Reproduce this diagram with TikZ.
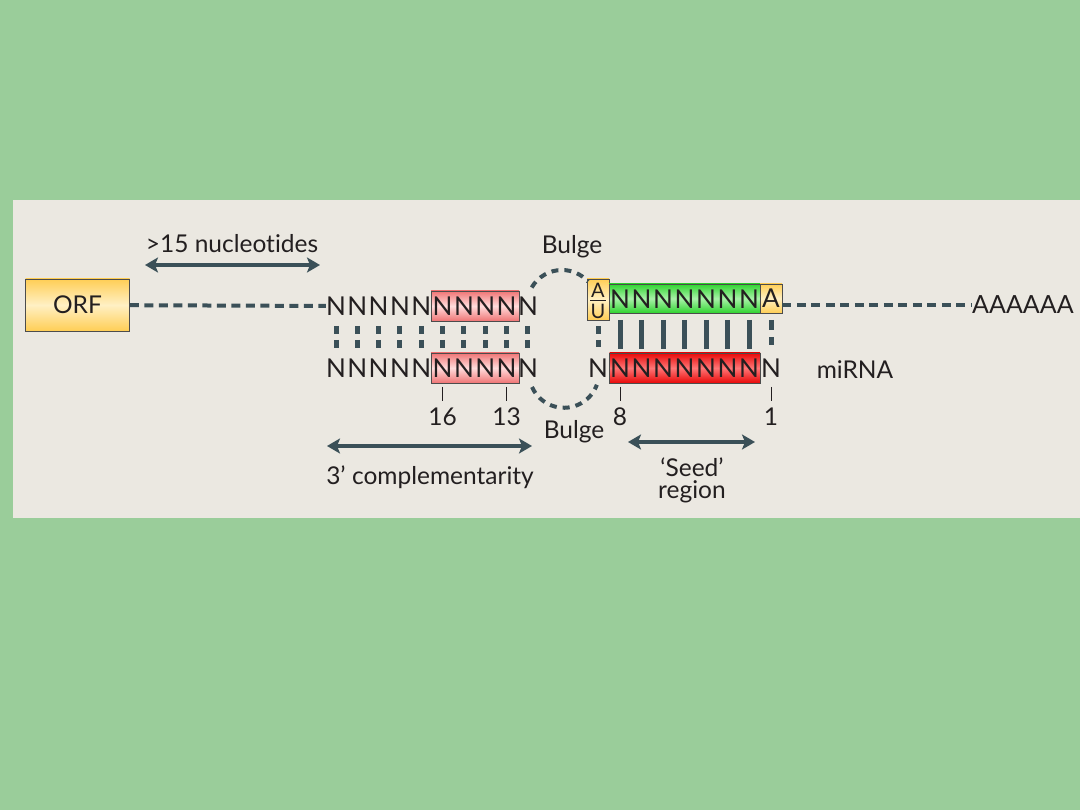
\documentclass[tikz,border=0pt]{standalone}
\usepackage{fontspec}
\setmainfont{Lato}[Ligatures=NoCommon]
\usetikzlibrary{arrows.meta}
\definecolor{bggreen}{HTML}{9ACD9A}
\definecolor{panel}{HTML}{EBE8E1}
\definecolor{slate}{HTML}{3B5058}
\definecolor{ink}{HTML}{231F20}
\definecolor{orfdark}{HTML}{FFCE55}
\definecolor{orflight}{HTML}{FFF0C4}
\definecolor{pinkdark}{HTML}{EF7474}
\definecolor{pinklight}{HTML}{FFDCDC}
\definecolor{reddark}{HTML}{E80808}
\definecolor{redlight}{HTML}{FF7676}
\definecolor{grndark}{HTML}{30D430}
\definecolor{grnlight}{HTML}{A8F2A8}
\begin{document}
\begin{tikzpicture}[x=1pt,y=-1pt,
  every node/.style={inner sep=0pt,text=ink,font=\fontsize{24.5}{28}\selectfont},
  nuc/.style={font=\fontsize{26}{30}\selectfont},
  box/.style={draw=black!70,line width=0.8pt,minimum height=30pt},
  orfbox/.style={box,top color=orfdark,bottom color=orfdark,middle color=orflight},
  pinkbox/.style={box,top color=pinkdark,bottom color=pinkdark,middle color=pinklight},
  redbox/.style={box,top color=reddark,bottom color=reddark,middle color=redlight},
  greenbox/.style={box,top color=grndark,bottom color=grndark,middle color=grnlight},
  strand/.style={slate,line width=4pt,dash pattern=on 9pt off 5.5pt},
  bulge/.style={slate,line width=4pt,dash pattern=on 7pt off 6pt},
  pairdash/.style={slate,line width=5pt,dash pattern=on 8pt off 6pt},
  pairbar/.style={slate,line width=5pt},
  tick/.style={ink,line width=0.9pt},
  span/.style={slate,line width=4pt,{Stealth[length=13pt,width=15pt,inset=3pt]}-{Stealth[length=13pt,width=15pt,inset=3pt]}}]
\fill[bggreen] (0,0) rectangle (1080,810);
\fill[panel] (13,200) rectangle (1080,518);

\node[orfbox,minimum width=104pt,minimum height=52pt] (orf) at (77.5,305) {ORF};

\node[pinkbox,minimum width=88pt] (pinktop) at (475,306) {};
\node[pinkbox,minimum width=88pt] (pinkbot) at (475,368) {};
\foreach \i in {0,...,9} {
    \node[nuc] (t\i) at ({336+21.33*\i},306) {N};
    \node[nuc] (b\i) at ({336+21.33*\i},368) {N};
    \draw[pairdash] (t\i) ++(0,20) -- ++(0,22);
}
\draw[strand] (orf) -- (t0);

\node[orfbox,minimum width=22pt,minimum height=41pt] (au) at (598,299.5) {};
\node[font=\fontsize{20}{23}\selectfont] (aa) at (598,290) {A};
\node[font=\fontsize{20}{23}\selectfont] (uu) at (598,311) {U};
\draw[ink,line width=0.8pt] (590,300.5) -- (606,300.5);
\node[greenbox,minimum width=151pt,minimum height=29pt] (seedtop) at (684.5,298.5) {};
\node[orfbox,minimum width=22pt,minimum height=29pt,nuc] (abox) at (771,298.5) {A};
\node[redbox,minimum width=150.5pt] (seedbot) at (684.75,368) {};
\foreach \k in {0,...,6} {
    \node[nuc] (s\k) at ({620+21.5*\k},299) {N};
    \node[nuc] (m\k) at ({620+21.5*\k},368) {N};
    \draw[pairbar] (s\k) ++(0,21) -- ++(0,29);
}
\node[nuc] (m8) at (598,368) {N};
\node[nuc] (m1) at (771,368) {N};
\draw[pairdash] (au) ++(0,27) -- ++(0,21);
\draw[slate,line width=5pt,dash pattern=on 10pt off 7pt] (abox) ++(0,21.5) -- ++(0,25);

\node[font=\fontsize{25}{28}\selectfont,anchor=west] (polya) at (972,305) {AAAAAA};
\draw[strand] ([yshift=-6.5pt]abox.east) -- (polya.west);
\node (mirna) at (855,370) {miRNA};

\draw[bulge] (531.7,287.5) arc[start angle=150,end angle=42,radius=35pt];
\draw[bulge] (532,387) arc[start angle=204,end angle=340,radius=35pt];
\node (bulgetop) at (572,247) {Bulge};
\node (bulgebot) at (574,432) {Bulge};

\draw[tick] (b5) ++(0,19) -- ++(0,14);
\draw[tick] (b8) ++(0,19) -- ++(0,14);
\draw[tick] (m0) ++(0,19) -- ++(0,14);
\draw[tick] (m1) ++(0,19) -- ++(0,14);
\node (n16) at (442.7,417) {16};
\node (n13) at (506.6,417) {13};
\node (n8) at (620,417) {8};
\node (n1) at (771,417) {1};

\node (nucl) at (232,244) {>15 nucleotides};
\coordinate (nuclL) at (145,265);
\coordinate (nuclR) at (320,265);
\draw[span] (nuclL) -- (nuclR);

\coordinate (compL) at (327,446);
\coordinate (compR) at (532,446);
\draw[span] (compL) -- (compR);
\node (comp) at (430,477) {3’ complementarity};

\coordinate (seedL) at (628,442);
\coordinate (seedR) at (755,442);
\draw[span] (seedL) -- (seedR);
\node (seed) at (692,467) {‘Seed’};
\node (region) at (692,492) {region};
\end{tikzpicture}
\end{document}
